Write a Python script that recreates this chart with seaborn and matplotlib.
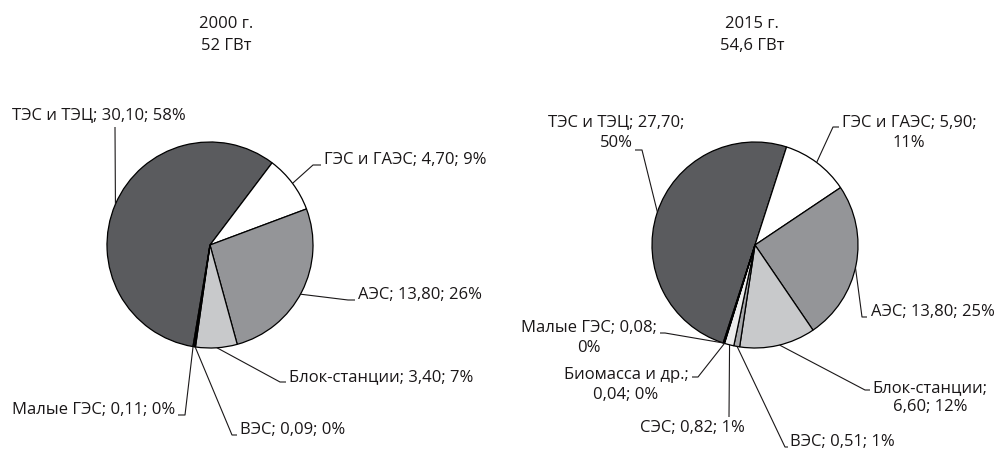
import numpy as np
import matplotlib
matplotlib.use("Agg")
import matplotlib.pyplot as plt
import seaborn as sns

# ---------------- data ----------------
titles = ["2000 г.\n52 ГВт", "2015 г.\n54,6 ГВт"]

cats_2000 = ["ТЭС и ТЭЦ", "ГЭС и ГАЭС", "АЭС", "Блок-станции", "ВЭС", "Малые ГЭС"]
vals_2000 = [30.10, 4.70, 13.80, 3.40, 0.09, 0.11]
pct_2000 = [58, 9, 26, 7, 0, 0]

cats_2015 = ["ТЭС и ТЭЦ", "ГЭС и ГАЭС", "АЭС", "Блок-станции", "ВЭС", "СЭС",
             "Биомасса и др.", "Малые ГЭС"]
vals_2015 = [27.70, 5.90, 13.80, 6.60, 0.51, 0.82, 0.04, 0.08]
pct_2015 = [50, 11, 25, 12, 1, 1, 0, 0]

# ---------------- style ----------------
W, H = 997, 453
sns.set_theme(style="white")
plt.rcParams["font.family"] = ["Open Sans", "DejaVu Sans"]
FS = 12

colors = {
    "ТЭС и ТЭЦ": "#5a5b5e",
    "ГЭС и ГАЭС": "#ffffff",
    "АЭС": "#949598",
    "Блок-станции": "#c8c9cb",
    "ВЭС": "#a6a7aa",
    "СЭС": "#ededed",
    "Биомасса и др.": "#808184",
    "Малые ГЭС": "#6b6c6f",
}
TXT = "#1a1718"

fig = plt.figure(figsize=(W / 100, H / 100), dpi=100)
ax = fig.add_axes([0, 0, 1, 1])
ax.set_xlim(0, W)
ax.set_ylim(0, H)
ax.set_aspect("equal")
ax.axis("off")


def P(x, y):
    return (x, H - y)


def fmt(v):
    return f"{v:.2f}".replace(".", ",")


# layout per pie: center, radius, startangle, title position,
# label positions (pixel), line-break mode, leader polylines (pixel)
layouts = [
    dict(center=(210, 245), r=103, start=-99.5, title=(226, 35),
         lab=[(98.5, 116), (405, 160), (419.5, 295), (381.5, 377), (292.5, 430), (93.5, 410)],
         brk=[None] * 6,
         lead=[[(115, 127), (115, 204)],
               [(321, 165), (313, 165), (293, 183)],
               [(355, 300), (348, 300), (302, 295)],
               [(286, 382), (280, 382), (217, 349)],
               [(237, 435), (232, 435), (195, 348)],
               [(178, 415), (185, 415), (193, 347)]]),
    dict(center=(755, 245), r=103, start=-108, title=(752, 35),
         lab=[(616, 133), (909, 133), (932.5, 312), (930, 397.5), (842, 442), (692, 428),
              (626, 385), (589, 338)],
         brk=["val", "val", None, "cat", None, None, "cat", "val"],
         lead=[[(635, 150), (642, 150), (657, 212)],
               [(839, 127), (833, 127), (817, 162)],
               [(867, 317), (862, 317), (857, 268)],
               [(870, 390), (865, 390), (780, 347)],
               [(788, 447), (785, 447), (737, 347)],
               [(729, 417), (729, 347)],
               [(692, 377), (698, 377), (724, 345)],
               [(660, 333), (665, 333), (723, 343)]]),
]

datasets = [(cats_2000, vals_2000, pct_2000), (cats_2015, vals_2015, pct_2015)]

for (cats, vals, pcts), L, title in zip(datasets, layouts, titles):
    cx, cy = P(*L["center"])
    r = L["r"]
    wedges, _ = ax.pie(vals, colors=[colors[c] for c in cats], startangle=L["start"],
                       counterclock=False, center=(cx, cy), radius=r,
                       wedgeprops=dict(edgecolor="black", linewidth=0.9))
    ax.text(*P(*L["title"]), title, ha="center", va="center", fontsize=FS,
            linespacing=1.55, color=TXT)
    for w, c, v, p, pos, brk, lead in zip(wedges, cats, vals, pcts, L["lab"], L["brk"], L["lead"]):
        if brk == "val":
            txt = f"{c}; {fmt(v)};\n{p}%"
        elif brk == "cat":
            txt = f"{c};\n{fmt(v)}; {p}%"
        else:
            txt = f"{c}; {fmt(v)}; {p}%"
        ax.text(*P(*pos), txt, ha="center", va="center", fontsize=FS,
                linespacing=1.28, color=TXT)
        # snap the last leader point onto the wedge edge
        pts = [P(*q) for q in lead]
        ex, ey = pts[-1]
        phi = np.degrees(np.arctan2(ey - cy, ex - cx))
        t1, t2 = w.theta1, w.theta2
        a = (phi - t1) % 360 + t1
        if a > t2:
            a = t2 if (a - t2) < (t1 + 360 - a) else t1
        ax_ = cx + r * np.cos(np.radians(a))
        ay_ = cy + r * np.sin(np.radians(a))
        pts[-1] = (ax_, ay_)
        xs, ys = zip(*pts)
        ax.plot(xs, ys, color=TXT, linewidth=0.8, solid_capstyle="butt")

ax.set_xlim(0, W)
ax.set_ylim(0, H)
fig.savefig("out.png", dpi=100, facecolor="white")
